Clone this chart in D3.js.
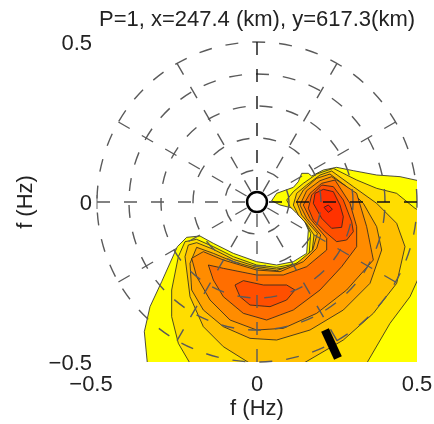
<!DOCTYPE html>
<html><head><meta charset="utf-8">
<script src="https://cdn.jsdelivr.net/npm/d3@7"></script>
<style>html,body{margin:0;background:#fff}svg{display:block}text{font-family:"Liberation Sans",Arial,sans-serif;fill:#222}</style>
</head><body><svg id="c" width="434" height="424"></svg>
<script>
const title = "P=1, x=247.4 (km), y=617.3(km)";
const axisTicks = [-0.5, 0, 0.5];
const radii = [0.1, 0.2, 0.3, 0.4, 0.5];
const angles = d3.range(0, 360, 30);
const holeRadius = 0.031;
const windBar = [[0.2125, -0.4], [0.253, -0.4875]];
const Z = (a) => a.map(([x, y]) => [(x - 501) / 960, (156 - y) / 960]);
const levelColors = ["#ffff00", "#ffdd00", "#ffc000", "#ffa400", "#ff8c00", "#ff6e00", "#ff5000", "#ff3000", "#ff1c00"];
const level1 = Z([[172,640],[163,545],[180,470],[215,395],[262,290],[290,262],[330,258],[370,280],[430,310],[500,335],[560,345],[610,335],[650,310],[655,240],[640,205],[610,175],[570,165],[545,152],[560,130],[610,112],[625,95],[635,70],[655,70],[665,78],[700,60],[740,52],[790,62],[860,75],[930,80],[985,92],[985,640]]);
const level2 = Z([[300,640],[265,580],[245,500],[245,420],[265,320],[285,275],[320,268],[370,290],[430,320],[500,345],[560,352],[615,342],[657,318],[662,250],[645,215],[620,190],[600,170],[590,150],[610,125],[640,100],[680,72],[730,55],[770,75],[800,90],[860,115],[920,130],[975,175],[985,180],[985,385],[960,440],[900,520],[830,640]]);
const level3 = Z([[480,640],[400,590],[340,530],[300,440],[285,320],[295,285],[320,278],[370,298],[430,328],[500,350],[560,357],[620,348],[664,325],[672,255],[650,222],[625,195],[610,165],[620,130],[650,105],[690,75],[725,63],[790,110],[860,160],[920,220],[945,290],[920,400],[850,490],[760,570],[640,640]]);
const level4 = Z([[300,340],[305,420],[340,480],[400,530],[480,565],[560,570],[660,540],[760,480],[840,400],[875,300],[860,230],[820,160],[770,110],[720,72],[680,85],[640,120],[620,155],[635,195],[660,225],[682,250],[668,300],[620,340],[560,362],[500,355],[430,335],[370,310],[320,292]]);
const level5 = Z([[305,325],[320,380],[360,450],[420,510],[500,540],[580,535],[680,490],[770,420],[850,330],[830,230],[800,130],[725,80],[690,92],[650,122],[630,165],[650,205],[692,255],[680,295],[640,335],[570,365],[500,360],[400,330],[340,305]]);
const level6 = Z([[355,345],[370,390],[400,440],[460,490],[530,510],[610,480],[690,420],[755,350],[800,290],[800,230],[780,160],[735,90],[695,100],[660,130],[640,165],[660,205],[685,235],[710,265],[710,300],[650,350],[580,375],[500,375],[400,355]]);
const level7a = Z([[435,405],[460,392],[520,405],[590,405],[615,420],[590,450],[540,470],[480,465],[450,440]]);
const level7b = Z([[655,175],[665,135],[695,105],[730,110],[760,150],[785,215],[790,245],[770,270],[740,275],[705,245],[670,210]]);
const level8 = Z([[670,160],[675,130],[700,118],[730,125],[750,165],[760,200],[755,232],[725,235],[695,205]]);
const level9 = Z([[702,172],[715,165],[727,178],[715,187]]);
const contours = [[level1,0],[level2,1],[level3,2],[level4,3],[level5,4],[level6,5],[level7a,6],[level7b,6],[level8,7],[level9,8]];

const svg = d3.select("#c");
const defs = svg.append("defs");
defs.append("filter").attr("id", "soft").attr("filterUnits", "userSpaceOnUse")
  .attr("x", 0).attr("y", 0).attr("width", 434).attr("height", 424)
  .append("feGaussianBlur").attr("stdDeviation", 0.45);
const root = svg.append("g").attr("filter", "url(#soft)");
const x = d3.scaleLinear().domain([-0.5, 0.5]).range([97, 417]);
const y = d3.scaleLinear().domain([-0.5, 0.5]).range([362, 42]);
const line = d3.line().x(d => x(d[0])).y(d => y(d[1])).curve(d3.curveLinearClosed);
defs.append("clipPath").attr("id", "box").append("rect")
  .attr("x", x(-0.5)).attr("y", y(0.5)).attr("width", x(0.5) - x(-0.5)).attr("height", y(-0.5) - y(0.5));

const plot = root.append("g").attr("clip-path", "url(#box)");
plot.selectAll("path.lvl").data(contours).join("path").attr("class", "lvl")
  .attr("d", d => line(d[0])).attr("fill", d => levelColors[d[1]])
  .attr("stroke", "#222").attr("stroke-width", 0.8).attr("stroke-linejoin", "round");

const grid = root.append("g").attr("fill", "none").attr("stroke", "#5a5a5a").attr("stroke-width", 1.4).attr("stroke-dasharray", "13 14");
grid.selectAll("path").data(radii).join("path").attr("d", d => {
  const p = d3.path(), r = x(d) - x(0);
  p.moveTo(x(0) + r, y(0));
  p.arc(x(0), y(0), r, 0, Math.PI, true);
  p.arc(x(0), y(0), r, Math.PI, 2 * Math.PI, true);
  return p.toString();
});
grid.selectAll("line").data(angles).join("line")
  .attr("x1", d => x(0.5 * Math.cos(d * Math.PI / 180))).attr("y1", d => y(0.5 * Math.sin(d * Math.PI / 180)))
  .attr("x2", x(0)).attr("y2", y(0))
  .attr("stroke", d => d === 0 || d === 90 ? "#111" : "#5a5a5a");

root.append("path").attr("d", d3.line().x(d => x(d[0])).y(d => y(d[1]))(windBar))
  .attr("stroke", "#000").attr("stroke-width", 8.5).attr("fill", "none");
root.append("circle").attr("cx", x(0)).attr("cy", y(0)).attr("r", x(holeRadius) - x(0))
  .attr("fill", "#fff").attr("stroke", "#000").attr("stroke-width", 2.5);

const fs = 22;
const fmt = d => d === 0 ? "0" : (d < 0 ? "\u2212" : "") + Math.abs(d);
root.append("g").selectAll("text").data(axisTicks).join("text")
  .attr("x", d => x(d) - (d < 0 ? 6 : 0)).attr("y", 391).attr("text-anchor", "middle").attr("font-size", fs).text(fmt);
root.append("g").selectAll("text").data(axisTicks).join("text")
  .attr("x", 92).attr("y", d => y(d) + 8).attr("text-anchor", "end").attr("font-size", fs).text(fmt);
root.append("line").attr("x1", x(-0.5)).attr("x2", x(-0.5)).attr("y1", y(0) - 7).attr("y2", y(0) + 7).attr("stroke", "#666").attr("stroke-width", 1);
root.append("text").attr("x", 257).attr("y", 415).attr("text-anchor", "middle").attr("font-size", fs).text("f (Hz)");
root.append("text").attr("transform", "translate(32,202) rotate(-90)").attr("text-anchor", "middle").attr("font-size", fs).text("f (Hz)");
root.append("text").attr("x", 257).attr("y", 26).attr("text-anchor", "middle").attr("font-size", fs).text(title);
</script></body></html>
